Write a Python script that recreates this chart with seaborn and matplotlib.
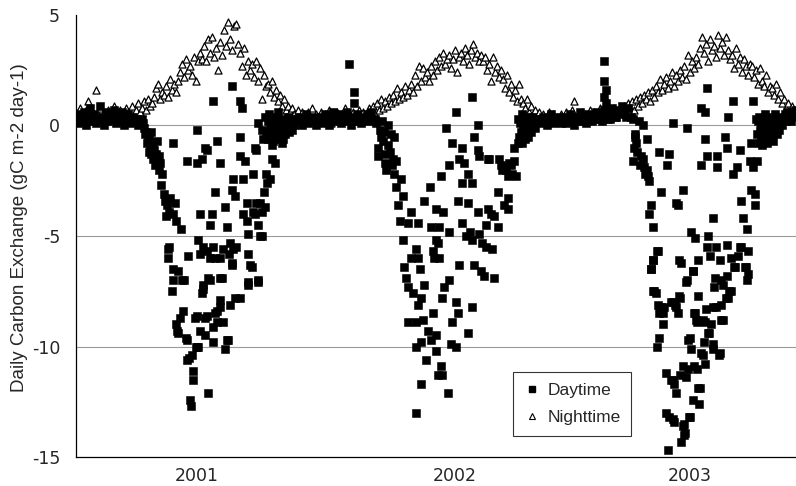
import numpy as np
import pandas as pd
import matplotlib
matplotlib.use("Agg")
import matplotlib.pyplot as plt
from matplotlib.lines import Line2D
import seaborn as sns

# ---------------------------------------------------------------------------
# Data: daily carbon exchange (gC m-2 day-1), days counted from 1 Jan of year
# ---------------------------------------------------------------------------
YEARS = [2001, 2002, 2003]
YEAR_LABELS = ["2001", "2002", "2003"]
STEP = 3  # nighttime and winter daytime series are listed every third day

NIGHT_2001 = [0.6, 0.3, 0.8, 0.5, 0.2, 0.7, 1.1, 0.4, 0.6, 0.3, 1.6, 0.5, 0.8, 0.4, 0.6, 0.2,
              0.7, 0.5, 0.3, 0.9, 0.6, 0.4, 0.7, 0.5, 0.3, 0.8, 0.6, 0.4, 0.9, 0.5, 0.7, 1.0, 0.6,
              0.8, 1.1, 0.7, 1.2, 0.9,
              1.0, 1.3, 1.7, 1.9, 1.2, 1.5, 1.4,
              1.8, 1.3, 2.1, 1.6, 1.9, 1.5, 2.0,
              2.4, 2.8, 2.2, 3.0, 2.5, 2.7, 2.3, 3.1, 2.0, 2.9, 3.3,
              3.0, 3.6, 2.9, 3.9, 3.3, 4.0, 3.1, 3.5,
              2.5, 3.8, 3.2, 4.3, 3.6, 4.7, 3.9, 3.4, 4.5, 4.6,
              3.7, 3.3, 2.7, 3.5, 2.3, 2.9, 2.5,
              2.8, 2.2, 2.9, 2.0, 2.6, 1.2, 2.3, 1.8,
              1.9, 1.5, 2.0, 1.3, 1.6, 1.1, 1.4,
              0.9, 1.2, 0.7, 0.9, 0.6, 0.8, 0.5,
              0.4, 0.7, 0.3, 0.6, 0.5, 0.2, 0.6, 0.4, 0.8, 0.3, 0.5, 0.4]

NIGHT_2002 = [0.3, 0.6, 0.2, 0.5, 0.4, 0.7, 0.1, 0.5, 0.3, 0.6, 0.4, 0.2, 0.5, 0.8, 0.3, 0.5,
              0.4, 0.6, 0.2, 0.5, 0.7, 0.3, 0.6, 0.4, 0.5, 0.8,
              0.6, 0.9, 0.5, 1.0, 0.7, 1.2, 0.8, 1.1, 0.9, 1.3,
              1.0, 1.4, 1.1, 1.7, 1.2, 1.5, 1.3, 1.8, 1.4, 1.6,
              1.9, 1.5, 2.3, 1.8, 2.7, 2.0, 2.6, 2.2,
              2.4, 2.0, 2.7, 2.3, 2.9, 2.5, 3.1, 2.7, 3.3, 2.8, 3.0, 3.2, 2.6,
              3.0, 3.4, 2.4, 3.1, 3.3, 2.9, 3.5, 3.2, 2.8, 3.4, 3.7, 3.1, 3.3, 2.9, 3.2,
              2.9, 3.1, 2.5, 2.8, 2.0, 3.1, 2.4, 2.7, 2.2, 2.5,
              2.1, 1.7, 2.3, 1.5, 1.9, 1.3, 1.6, 1.1, 1.9, 1.2,
              1.0, 0.8, 1.2, 0.6, 0.9, 0.5, 0.7,
              0.4, 0.6, 0.3, 0.5, 0.2, 0.4, 0.6, 0.3, 0.5, 0.2, 0.4, 0.3, 0.5]

NIGHT_2003 = [0.4, 0.2, 0.6, 0.3, 0.5, 0.7, 1.1, 0.3, 0.5, 0.2, 0.6, 0.4, 0.3, 0.5, 0.7, 0.4,
              0.6, 0.3, 0.5, 0.8, 0.4, 0.6, 0.5, 0.3, 0.7, 0.5, 0.8, 0.4, 0.6, 0.7,
              0.6, 0.9, 0.5, 1.0, 0.8, 1.1, 0.7, 1.2, 0.9, 1.3, 1.0, 1.4, 1.2, 1.5, 1.1,
              1.6, 1.3, 1.8, 1.5, 2.1, 1.6, 1.9, 2.2, 1.7, 2.0, 2.4, 1.8, 2.3, 2.0, 2.5,
              2.2, 2.7, 2.1, 3.2, 2.4, 2.9, 2.6, 3.1, 2.8, 3.5,
              4.0, 3.3, 3.7, 2.9, 3.9, 3.4, 3.6, 3.1, 4.1, 3.5, 3.8, 3.2, 4.0, 3.4, 3.0,
              3.2, 2.6, 3.5, 2.8, 3.1, 2.4, 3.0, 2.7, 2.3, 2.8,
              2.7, 2.2, 2.5, 1.9, 2.6, 2.0, 1.8, 2.3, 1.5, 1.8,
              1.7, 1.4, 1.9, 1.2, 1.5, 1.0, 1.2, 0.8, 1.0, 0.6, 0.9, 0.5, 0.7]

# Winter daytime values (every third day, from the given start day)
DAY_JAN_2001 = [0.3, 0.1, 0.5, 0.2, 0.6, 0.0, 0.4, 0.8, 0.2, 0.5, 0.1, 0.3, 0.9, 0.4, 0.0, 0.6,
                0.2, 0.5, 0.3, 0.7, 0.1, 0.4, 0.2, 0.6, 0.0, 0.3, 0.5, 0.1, 0.4, 0.2, 0.3, 0.0, 0.2]
DAY_DEC_2001 = [0.2, 0.4, 0.0, 0.3, 0.5, 0.1, 0.3, 0.2, 0.4, 0.0, 0.3]
DAY_JAN_2002 = [0.2, 0.4, 0.1, 0.5, 0.3, 0.0, 0.4, 0.6, 0.2, 0.3, 0.5, 0.1, 0.4, 0.2, 0.6, 0.3,
                0.0, 0.4, 0.2, 0.5, 0.3, 0.1, 0.4, 0.2, 0.5, 0.3, 0.6, 0.2]
DAY_DEC_2002 = [0.3, 0.1, 0.4, 0.2, 0.0, 0.3, 0.5, 0.1, 0.3, 0.2, 0.4, 0.1]
DAY_JAN_2003 = [0.2, 0.4, 0.1, 0.3, 0.5, 0.2, 0.0, 0.4, 0.3, 0.6, 0.2, 0.4, 0.1, 0.5, 0.3, 0.2,
                0.4, 0.6, 0.3, 0.5, 0.2, 0.7, 0.4, 0.6, 0.3, 0.8, 0.5, 0.4, 0.7, 0.5, 0.9, 0.6, 0.4, 0.8]
WINTER_STARTS = [0, 333, 0, 330, 0]

# Growing-season daytime values as (day of year, value)
DAY_2001 = [(99, 0.3), (100, 0.1), (102, -0.1), (103, -0.4), (105, -0.3), (106, -0.8), (108, -0.6),
            (109, -1.2), (110, -0.5), (111, -1.0), (112, -0.3), (113, -1.3), (115, -0.9), (116, -1.5),
            (117, -1.1), (118, -1.8), (119, -1.4), (120, -1.3), (121, -0.7), (122, -1.6), (124, -1.4),
            (125, -2.0), (126, -1.7), (128, -2.7), (129, -2.2), (132, -3.1), (134, -3.4), (135, -4.1),
            (137, -3.6), (138, -5.6), (138, -6.0), (139, -3.9), (140, -5.5), (141, -3.3), (144, -7.5),
            (146, -4.0), (146, -6.5), (146, -7.0), (146, -0.8), (148, -3.5), (150, -4.3), (150, -9.0),
            (151, -9.3), (153, -6.6), (153, -9.4), (156, -8.7), (158, -4.7), (159, -7.0), (160, -8.4),
            (162, -7.0), (165, -9.6), (166, -9.7), (166, -10.6), (166, -1.6), (168, -5.9), (170, -10.5),
            (171, -12.4), (173, -12.7), (174, -10.4), (176, -11.1), (176, -11.5), (179, -8.7),
            (180, -10.0), (181, -8.6), (181, -0.2), (181, -1.7), (181, -10.0), (183, -10.0), (183, -5.2),
            (186, -4.0), (186, -5.8), (186, -9.3), (189, -1.5), (189, -7.6), (190, -5.5), (191, -7.2),
            (191, -7.4), (194, -8.7), (194, -9.5), (194, -1.0), (196, -1.1), (196, -8.6), (197, -5.7),
            (198, -12.1), (198, -6.9), (201, -4.5), (201, -6.0), (201, -7.0), (204, -4.0), (205, -5.5),
            (206, 1.1), (206, -9.1), (206, -9.8), (208, -3.0), (208, -8.5), (209, -6.0), (211, -0.7),
            (212, -8.4), (212, -8.9), (216, -1.7), (216, -6.0), (216, -7.9), (216, -6.9), (216, -8.2),
            (219, -6.9), (221, -8.9), (221, -5.6), (224, -3.7), (224, -10.1), (226, -4.6), (226, -9.7),
            (228, -9.7), (229, -5.8), (231, -8.1), (231, -5.3), (234, 1.8), (234, -2.9), (234, -6.2),
            (234, -6.3), (236, -2.4), (236, -5.6), (239, -3.2), (239, -7.8), (240, -5.5), (246, 1.1),
            (249, 0.8), (246, -0.5), (246, -1.4), (246, -7.8), (251, -2.4), (251, -4.0), (253, -1.6),
            (256, -3.5), (256, -4.3), (258, -4.9), (258, -5.8), (258, -7.1), (258, -7.2), (261, -6.3),
            (264, -6.4), (266, -2.2), (266, -3.9), (269, -1.0), (269, -4.0), (271, -1.1), (271, -3.5),
            (273, 0.1), (273, -4.5), (273, -7.0), (273, -7.1), (276, -3.5), (276, -5.0), (279, -0.2),
            (279, -3.9), (279, -5.0), (281, -0.6), (283, -3.0), (284, -3.7), (286, -2.2), (287, -2.6),
            (291, -2.4), (294, -1.5), (294, -0.9), (299, -1.7),
            (284, 0.4), (286, -0.3), (288, 0.2), (289, -0.6), (290, 0.5), (291, -0.1), (293, 0.3),
            (294, -0.4), (295, 0.0), (296, -0.7), (297, 0.4), (298, -0.2), (299, 0.2), (300, -0.5),
            (301, 0.1), (302, -0.3), (303, 0.6), (304, -0.1), (305, -0.6), (306, 0.2), (307, -0.3),
            (308, 0.0), (309, -0.8), (310, 0.3), (311, -0.6), (312, -0.2), (313, 0.1), (314, -0.4),
            (316, 0.2), (317, -0.1), (318, 0.4), (320, -0.3), (321, 0.1), (323, 0.3), (324, -0.2),
            (326, 0.2), (328, 0.0), (330, 0.3)]

DAY_2002 = [(45, 2.8), (53, 1.5), (53, 1.0),
            (84, 0.3), (86, 0.1), (88, -1.4), (89, -1.0), (91, -0.2), (93, -0.5), (94, 0.2), (96, -0.7),
            (98, -0.3), (99, -1.3), (99, -1.7), (101, -2.0), (103, 0.0), (104, -0.9), (106, -1.2),
            (108, -0.4), (110, -1.8), (111, -1.5), (113, -0.5), (113, -2.2), (115, -1.6), (116, -2.8),
            (118, -3.6), (121, -4.3), (123, -2.4), (126, -3.2), (126, -5.2), (128, -6.4), (130, -6.9),
            (133, -4.4), (133, -7.3), (133, -8.9), (138, -3.9), (138, -6.0), (141, -7.6), (146, -5.6),
            (146, -8.9), (146, -10.0), (146, -13.0), (148, -4.4), (148, -6.0), (148, -8.1), (151, -6.5),
            (153, -7.8), (153, -9.8), (153, -11.7), (156, -8.8), (158, -3.4), (158, -7.2), (161, -10.6),
            (163, -9.3), (166, -2.8), (168, -4.6), (168, -9.7), (171, -5.7), (171, -8.5), (173, -6.0),
            (176, -3.8), (176, -9.5), (176, -10.2), (178, -5.3), (178, -11.3), (175, -5.2), (180, -6.0),
            (180, -4.6), (183, -10.9), (183, -2.3), (185, -11.3), (185, -7.8), (186, -3.9), (188, -7.3),
            (190, -0.1), (193, -12.1), (195, -1.8), (195, -7.0), (195, -4.8), (198, -9.9), (200, -0.8),
            (200, -8.9), (205, -8.0), (205, -10.0), (206, 0.6), (208, -8.5), (208, -3.4), (210, -1.5),
            (210, -6.3), (215, -1.0), (215, -2.6), (215, -4.4), (218, -1.7), (220, -5.0), (223, -2.2),
            (223, -3.5), (223, -9.4), (226, -4.8), (230, 1.3), (230, -2.6), (230, -5.2), (230, -8.2),
            (233, -0.5), (233, -6.3), (238, 0.0), (238, -1.1), (238, -3.9), (240, -1.4), (240, -4.9),
            (243, -6.6), (245, -5.3), (248, -6.8), (250, -4.5), (250, -5.5), (253, -1.5), (253, -3.8),
            (255, -1.5), (258, -4.0), (260, -5.6), (263, -4.1), (263, -6.9), (268, -3.0), (268, -4.6),
            (270, -1.5), (273, -1.8), (275, -2.0), (276, -1.9), (278, -3.6), (280, -2.0), (283, -2.3),
            (283, -3.3), (284, -3.8), (285, -1.7), (288, -1.8), (290, -2.2), (292, -1.6), (295, -2.3),
            (293, -1.0), (298, -0.8),
            (299, 0.3), (300, -0.5), (302, 0.1), (303, -0.3), (304, 0.5), (305, -0.8), (306, 0.0),
            (307, -0.4), (308, 0.2), (309, -0.6), (310, 0.4), (311, -0.2), (312, 0.1), (313, -0.5),
            (314, 0.3), (315, -0.1), (316, 0.2), (318, -0.3), (319, 0.4), (320, 0.0), (322, 0.2),
            (324, -0.1), (326, 0.3)]

DAY_2003 = [(63, 2.9), (63, 2.0), (65, 1.6), (63, 1.3), (66, 1.0),
            (104, 0.4), (106, -1.6), (107, 0.3), (108, -1.0), (109, -0.5), (110, -0.4), (111, -0.8),
            (113, -1.2), (115, 0.2), (117, -1.8), (119, -1.4), (121, 0.0), (121, -1.5), (123, -1.9),
            (125, -2.2), (127, -2.0), (128, -0.6), (129, -2.3), (131, -2.5), (131, -4.0), (133, -3.6),
            (133, -6.5), (134, -6.5), (136, -4.6), (136, -6.1), (136, -7.5), (137, -6.1), (138, -7.5),
            (141, -7.6), (143, -5.7), (143, -10.0), (144, -5.7), (144, -8.1), (146, -1.2), (146, -8.5),
            (146, -9.6), (148, -3.0), (149, -8.2), (151, -8.5), (151, -9.0), (153, -8.2), (156, -11.2),
            (156, -13.0), (158, -1.8), (159, -14.7), (161, -1.3), (161, -13.2), (163, -8.0), (163, -11.5),
            (166, 0.1), (166, -8.0), (166, -13.3), (167, -11.5), (168, -11.7), (168, -13.4), (169, -8.1),
            (171, -3.5), (171, -8.2), (171, -12.1), (174, -3.6), (174, -8.5), (176, -6.1), (176, -7.7),
            (177, -7.8), (177, -11.3), (179, -6.2), (179, -14.3), (181, -10.9), (182, -2.9), (182, -13.6),
            (183, -13.5), (183, -14.0), (184, -13.9), (186, -7.1), (186, -11.4), (187, -0.1), (187, -7.0),
            (189, -9.7), (189, -11.0), (191, -13.2), (192, -9.6), (192, -13.2), (194, -4.8), (194, -10.1),
            (196, -6.6), (196, -12.4), (197, -6.6), (198, -8.5), (198, -10.9), (199, -5.1), (199, -8.5),
            (201, -8.8), (202, -8.9), (202, -11.0), (204, -6.1), (204, -7.7), (204, -11.9), (206, -12.6),
            (207, -11.9), (209, 0.8), (209, -1.8), (209, -10.3), (211, -8.8), (211, -10.4), (213, -9.8),
            (214, 0.6), (214, -0.6), (214, -8.9), (214, -10.8), (216, -8.3), (217, 1.7), (217, -1.4),
            (217, -5.5), (219, -5.0), (219, -9.4), (221, -9.4), (222, -5.9), (224, -9.0), (226, -10.1),
            (227, -4.2), (227, -8.2), (227, -9.9), (228, -7.3), (229, -6.9), (231, -5.5), (231, -8.2),
            (232, -1.4), (232, -1.9), (236, -10.4), (237, -6.1), (237, -10.3), (239, -7.0), (239, -8.1),
            (239, -8.8), (242, -7.2), (242, -8.8), (244, -0.5), (246, -7.8), (247, -1.0), (247, -5.4),
            (247, -6.8), (249, 0.4), (249, -7.8), (251, -7.5), (254, -6.0), (254, -7.5), (257, 1.1),
            (257, -2.2), (258, -6.4), (259, -6.4), (262, -1.9), (264, -5.9), (267, -1.1), (267, -5.5),
            (269, -3.4), (269, -5.5), (272, -4.2), (274, -6.4), (276, -6.4), (277, -4.7), (277, -7.0),
            (279, -5.7), (279, -6.7), (282, -1.6), (284, -0.8), (284, -2.9), (286, 1.1), (287, -1.9),
            (289, -3.1), (289, -3.6), (291, 0.3), (292, -1.6),
            (293, -0.4), (294, 0.2), (295, -0.8), (296, 0.4), (297, -0.2), (298, -0.6), (299, 0.1),
            (300, -0.9), (301, 0.3), (302, -0.3), (303, -0.7), (304, 0.5), (305, -0.1), (306, -0.5),
            (307, 0.2), (308, -0.8), (309, 0.0), (310, -0.4), (311, 0.3), (312, -0.6), (313, 0.1),
            (314, -0.3), (315, 0.4), (316, -0.1), (317, -0.7), (318, 0.2), (319, -0.2), (320, 0.5),
            (322, -0.4), (323, 0.1), (325, 0.3), (326, -0.2), (328, 0.4), (330, 0.0), (332, 0.3),
            (334, 0.5), (336, 0.2), (338, 0.6), (340, 0.3), (342, 0.5), (344, 0.2), (346, 0.6),
            (348, 0.4), (350, 0.7)]

# ---------------------------------------------------------------------------
# Assemble long tables (day counted from 1 Jan 2001)
# ---------------------------------------------------------------------------
def year_offset(year):
    return (year - YEARS[0]) * 365

night_rows = []
for year, vals in zip(YEARS, [NIGHT_2001, NIGHT_2002, NIGHT_2003]):
    for i, v in enumerate(vals):
        night_rows.append((year_offset(year) + i * STEP, v))
night = pd.DataFrame(night_rows, columns=["day", "flux"])

day_rows = []
winter_years = [2001, 2001, 2002, 2002, 2003]
winter_lists = [DAY_JAN_2001, DAY_DEC_2001, DAY_JAN_2002, DAY_DEC_2002, DAY_JAN_2003]
for year, start, vals in zip(winter_years, WINTER_STARTS, winter_lists):
    for i, v in enumerate(vals):
        day_rows.append((year_offset(year) + start + i * STEP, v))
for year, pts in zip(YEARS, [DAY_2001, DAY_2002, DAY_2003]):
    for doy, v in pts:
        day_rows.append((year_offset(year) + doy, v))
daytime = pd.DataFrame(day_rows, columns=["day", "flux"])

# ---------------------------------------------------------------------------
# Figure
# ---------------------------------------------------------------------------
sns.set_theme(style="white")
plt.rcParams["font.family"] = ["Liberation Sans", "DejaVu Sans"]
plt.rcParams["axes.unicode_minus"] = False

fig = plt.figure(figsize=(7.96, 4.86), dpi=100)
ax = fig.add_axes([76 / 796, 29 / 486, 720 / 796, 442 / 486])

for yv in [0, -5, -10]:
    ax.axhline(yv, color="#9a9a9a", linewidth=0.8, zorder=0)

sns.scatterplot(data=night, x="day", y="flux", ax=ax, marker="^", s=26,
                color="white", edgecolor="black", linewidth=0.9, legend=False, zorder=2)
sns.scatterplot(data=daytime, x="day", y="flux", ax=ax, marker="s", s=26,
                color="black", edgecolor="black", linewidth=0.4, legend=False, zorder=3)

ax.set_xlim(0, 1081)
ax.set_ylim(-15, 5)

# Year labels in the middle of each year, tick marks at year boundaries
ax.set_xticks([182, 569, 922])
ax.set_xticklabels(YEAR_LABELS, fontsize=12.5, family="DejaVu Sans")
ax.set_xticks([365, 730], minor=True)
ax.tick_params(axis="x", which="major", length=0, pad=7)
ax.tick_params(axis="x", which="minor", direction="in", length=5, width=0.8, color="black")

ax.set_yticks([-15, -10, -5, 0, 5])
ax.set_yticklabels(["-15", "-10", "-5", "0", "5"], fontsize=12.5, family="DejaVu Sans")
ax.tick_params(axis="y", which="major", direction="inout", length=5, width=0.8,
               pad=9, color="black")

ax.set_xlabel("")
ax.set_ylabel("Daily Carbon Exchange (gC m-2 day-1)", fontsize=13.5)
ax.yaxis.set_label_coords(-0.066, 0.52)

for side in ["top", "right"]:
    ax.spines[side].set_visible(False)
for side in ["left", "bottom"]:
    ax.spines[side].set_color("black")
    ax.spines[side].set_linewidth(0.9)

handles = [
    Line2D([], [], linestyle="none", marker="s", markersize=4.5,
           markerfacecolor="black", markeredgecolor="black"),
    Line2D([], [], linestyle="none", marker="^", markersize=5,
           markerfacecolor="white", markeredgecolor="black", markeredgewidth=0.8),
]
leg = ax.legend(handles, ["Daytime", "Nighttime"], loc="lower left",
                bbox_to_anchor=(0.607, 0.048), frameon=True, fancybox=False,
                fontsize=12.5, handlelength=1.0, handletextpad=0.4,
                borderpad=0.6, labelspacing=0.7, borderaxespad=0)
leg.get_frame().set_edgecolor("black")
leg.get_frame().set_linewidth(0.8)

fig.savefig("out.png", dpi=100)
